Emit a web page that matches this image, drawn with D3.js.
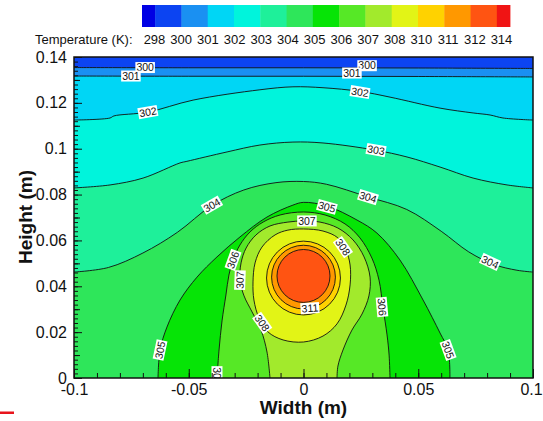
<!DOCTYPE html>
<html><head><meta charset="utf-8">
<script src="https://cdn.jsdelivr.net/npm/d3@7"></script>
<style>
body{margin:0;background:#fff;}
text{font-family:"Liberation Sans",Arial,sans-serif;fill:#111;}
</style>
</head><body>
<svg id="chart" width="543" height="421"></svg>
<script>
// ---------------- data ----------------
const legendLevels = [298,300,301,302,303,304,305,306,307,308,310,311,312,314];
const bandColors = ["#0000e4","#0c44f2","#1a90f2","#00d6f5","#00f4dc","#1ef09a","#2ee65a","#06e406","#56e826","#a2ea2c","#e2f416","#ffd200","#ff9800","#ff5412","#f01414"];

// open contour lines (x in m, y in m)
const c300 = [[-0.1,0.1354],[-0.05,0.1353],[0,0.1353],[0.05,0.1352],[0.1,0.1350]];
const c301 = [[-0.1,0.1317],[-0.05,0.1316],[0,0.1316],[0.05,0.1315],[0.1,0.1313]];
const c302 = [[-0.1,0.1125],[-0.0843,0.1134],[-0.0826,0.1143],[-0.0677,0.1160],[-0.0481,0.1212],[-0.019,0.1257],[-0.0046,0.1270],[0.0085,0.1266],[0.0246,0.1250],[0.0377,0.1225],[0.0595,0.1177],[0.0739,0.1156],[0.0813,0.1147],[0.0869,0.1134],[0.1,0.1125]];
const c303 = [[-0.1,0.0829],[-0.0843,0.0842],[-0.0699,0.0872],[-0.0538,0.0938],[-0.0508,0.0945],[-0.0333,0.0986],[-0.019,0.1016],[-0.0046,0.1029],[0.0085,0.1025],[0.0312,0.0994],[0.0451,0.0964],[0.0595,0.0920],[0.0739,0.0872],[0.0887,0.0842],[0.1,0.0829]];
const c304 = [[-0.1,0.0462],[-0.085,0.0482],[-0.07,0.0545],[-0.055,0.0635],[-0.04,0.0752],[-0.026,0.0820],[-0.012,0.0852],[0,0.0857],[0.01,0.0845],[0.028,0.0790],[0.045,0.0735],[0.06,0.0640],[0.072,0.0550],[0.083,0.0495],[0.093,0.0470],[0.1,0.0462]];
// arches that start and end on the bottom edge
const c305 = [[-0.0634,0],[-0.0625,0.0122],[-0.0595,0.0222],[-0.0538,0.0340],[-0.0464,0.0440],[-0.0377,0.0528],[-0.0277,0.0615],[-0.0159,0.0702],[-0.0046,0.0754],[0,0.0766],[0.0102,0.0750],[0.0233,0.0689],[0.032,0.0632],[0.042,0.0515],[0.0521,0.0340],[0.0595,0.0196],[0.063,0.0122],[0.0638,0]];
const c306 = [[-0.0377,0],[-0.0368,0.0122],[-0.0355,0.0249],[-0.0338,0.0362],[-0.0325,0.0449],[-0.0307,0.0515],[-0.0277,0.0580],[-0.0233,0.0637],[-0.0176,0.0680],[-0.0102,0.0711],[0,0.0724],[0.0094,0.0711],[0.0181,0.0672],[0.0246,0.0611],[0.0298,0.0523],[0.0329,0.0427],[0.0346,0.0310],[0.0364,0.0188],[0.0373,0.0100],[0.0377,0]];
const c307 = [[-0.0146,0],[-0.0159,0.0113],[-0.0185,0.0209],[-0.0224,0.0288],[-0.0259,0.0358],[-0.0277,0.0427],[-0.0272,0.0502],[-0.025,0.0567],[-0.0207,0.0624],[-0.0146,0.0663],[-0.0068,0.0680],[0,0.0685],[0.0072,0.0680],[0.015,0.0654],[0.0216,0.0602],[0.0264,0.0528],[0.029,0.0440],[0.0285,0.0358],[0.0255,0.0279],[0.0211,0.0209],[0.0172,0.0122],[0.015,0.0052],[0.0146,0]];
// closed contour
const c308 = [[0,0.0650],[0.0085,0.0641],[0.015,0.0611],[0.0185,0.0558],[0.0203,0.0493],[0.0203,0.0406],[0.0185,0.0318],[0.0146,0.0236],[0.0085,0.0183],[0,0.0157],[-0.0089,0.0166],[-0.0155,0.0201],[-0.0194,0.0262],[-0.0216,0.0340],[-0.022,0.0419],[-0.0211,0.0502],[-0.0181,0.0571],[-0.0124,0.0624],[-0.0068,0.0645]];
// circular contours around the hot spot
const ringLevels = [310,311,312];
const ringCx = [0,0,0];
const ringCy = [0.0436,0.0440,0.0445];
const ringR = [0.0161,0.0139,0.01155];

// contour labels
const labelText = ["300","300","301","301","302","302","303","304","304","304","305","305","305","306","306","306","307","307","308","308","311"];
const labelX = [-0.069,0.0277,-0.0752,0.0211,-0.0678,0.0246,0.0316,-0.0399,0.0281,0.0813,-0.0625,0.0102,0.063,-0.0307,0.0342,-0.0377,-0.0277,0.0015,-0.018,0.0172,0.0028];
const labelY = [0.1354,0.1362,0.1317,0.1330,0.1160,0.1247,0.0994,0.0754,0.0789,0.0506,0.0122,0.0746,0.0122,0.0515,0.0310,0.0009,0.0427,0.0685,0.0240,0.0571,0.0305];
const labelAngle = [0,0,0,0,-10,9,10,-30,17,25,-78,15,70,-70,85,90,-88,0,55,55,-4];

const xTickVals = [-0.1,-0.05,0,0.05,0.1];
const xTickLabels = ["-0.1","-0.05","0","0.05","0.1"];
const yTickVals = [0,0.02,0.04,0.06,0.08,0.1,0.12,0.14];
const yTickLabels = ["0","0.02","0.04","0.06","0.08","0.1","0.12","0.14"];

// ---------------- drawing ----------------
const svg = d3.select("#chart");
const L = 74, R = 533, T = 57, B = 378;
const x = d3.scaleLinear().domain([-0.1,0.1]).range([L,R]);
const y = d3.scaleLinear().domain([0,0.14]).range([B,T]);

svg.append("defs").append("clipPath").attr("id","plotclip")
  .append("rect").attr("x",L).attr("y",T).attr("width",R-L).attr("height",B-T);

const plot = svg.append("g").attr("clip-path","url(#plotclip)");
const lineGen = d3.line().x(d=>x(d[0])).y(d=>y(d[1])).curve(d3.curveCatmullRom.alpha(0.5));
const closedGen = d3.line().x(d=>x(d[0])).y(d=>y(d[1])).curve(d3.curveCatmullRomClosed.alpha(0.5));

// background band (298-300)
plot.append("rect").attr("x",L).attr("y",T).attr("width",R-L).attr("height",B-T).attr("fill",bandColors[1]);

const horiz = [c300,c301,c302,c303,c304];
horiz.forEach((pts,i)=>{
  plot.append("path")
    .attr("d", lineGen(pts) + `L${x(0.1)},${y(0)}L${x(-0.1)},${y(0)}Z`)
    .attr("fill", bandColors[i+2]);
});
const arches = [c305,c306,c307];
arches.forEach((pts,i)=>{
  plot.append("path").attr("d", lineGen(pts)+"Z").attr("fill", bandColors[i+7]);
});
plot.append("path").attr("d", closedGen(c308)).attr("fill", bandColors[10]);
ringLevels.forEach((lv,i)=>{
  plot.append("ellipse").attr("cx",x(ringCx[i])).attr("cy",y(ringCy[i]))
    .attr("rx",x(ringR[i])-x(0)).attr("ry",y(0)-y(ringR[i]))
    .attr("fill",bandColors[11+i]);
});

// contour lines
const lineStyle = sel => sel.attr("fill","none").attr("stroke","#111").attr("stroke-width",0.9);
horiz.concat(arches).forEach(pts=>{ plot.append("path").attr("d",lineGen(pts)).call(lineStyle); });
plot.append("path").attr("d",closedGen(c308)).call(lineStyle);
ringLevels.forEach((lv,i)=>{
  plot.append("ellipse").attr("cx",x(ringCx[i])).attr("cy",y(ringCy[i]))
    .attr("rx",x(ringR[i])-x(0)).attr("ry",y(0)-y(ringR[i])).call(lineStyle);
});

// contour labels
labelText.forEach((t,i)=>{
  const g = plot.append("g").attr("transform",`translate(${x(labelX[i])},${y(labelY[i])}) rotate(${labelAngle[i]})`);
  const r = g.append("rect").attr("fill","#fff");
  const tx = g.append("text").attr("text-anchor","middle").attr("dy","0.36em")
    .style("font-size","10.5px").style("fill","#111").text(t);
  const w = tx.node().getComputedTextLength();
  r.attr("x",-w/2-1).attr("y",-5.5).attr("width",w+2).attr("height",11);
});

// frame
svg.append("rect").attr("x",L).attr("y",T).attr("width",R-L).attr("height",B-T)
  .attr("fill","none").attr("stroke","#111").attr("stroke-width",1.5);

// axes (inward ticks)
const yMinor = d3.range(0,71).map(i=>+(i*0.002).toFixed(3));
const yMid = [0.01,0.03,0.05,0.07,0.09,0.11,0.13];
const xMinor = d3.range(-10,11).map(i=>i/100);
const axStyle = g => { g.select(".domain").remove(); g.selectAll("line").attr("stroke","#111").attr("stroke-width",1); };

svg.append("g").attr("transform",`translate(${L},0)`)
  .call(d3.axisLeft(y).tickValues(yMinor).tickSize(-4).tickFormat("")).call(axStyle);
svg.append("g").attr("transform",`translate(${L},0)`)
  .call(d3.axisLeft(y).tickValues(yMid).tickSize(-6).tickFormat("")).call(axStyle);
const yAx = svg.append("g").attr("transform",`translate(${L},0)`)
  .call(d3.axisLeft(y).tickValues(yTickVals).tickSize(-8).tickPadding(7)
    .tickFormat((d,i)=>yTickLabels[i])).call(axStyle);
yAx.selectAll("text").style("font-size","16px").style("font-family","Liberation Sans, Arial, sans-serif").attr("fill","#111");

svg.append("g").attr("transform",`translate(0,${B})`)
  .call(d3.axisBottom(x).tickValues(xMinor).tickSize(-5).tickFormat("")).call(axStyle);
const xAx = svg.append("g").attr("transform",`translate(0,${B})`)
  .call(d3.axisBottom(x).tickValues(xTickVals).tickSize(-9).tickPadding(6)
    .tickFormat((d,i)=>xTickLabels[i])).call(axStyle);
xAx.selectAll("text").style("font-size","16px").style("font-family","Liberation Sans, Arial, sans-serif").attr("fill","#111");
// keep the last label inside the window
xAx.selectAll("text").filter((d,i)=>i===xTickVals.length-1).attr("dx","-2");

// axis titles
svg.append("text").attr("x",(L+R)/2).attr("y",414).attr("text-anchor","middle")
  .style("font-size","19px").style("font-weight","bold").text("Width (m)");
svg.append("text").attr("transform","translate(32,217) rotate(-90)").attr("text-anchor","middle")
  .style("font-size","19px").style("font-weight","bold").text("Height (m)");

// colour legend
const cb = d3.scaleLinear().domain([-0.5,13.5]).range([142,510]);
bandColors.forEach((c,i)=>{
  const x0 = cb(Math.max(i-1,-0.5)), x1 = cb(Math.min(i,13.5));
  svg.append("rect").attr("x",x0).attr("y",5).attr("width",x1-x0+0.4).attr("height",22).attr("fill",c);
});
const lp = d3.scalePoint().domain(legendLevels).range([154.5,501.5]);
legendLevels.forEach(v=>{
  svg.append("text").attr("x",lp(v)).attr("y",44).attr("text-anchor","middle")
    .style("font-size","13px").text(v);
});
svg.append("text").attr("x",35).attr("y",44).style("font-size","13px").text("Temperature (K):");

// small red mark at bottom-left
svg.append("rect").attr("x",0).attr("y",411.5).attr("width",14).attr("height",2.5).attr("fill","#e8141c");
</script>
</body></html>
